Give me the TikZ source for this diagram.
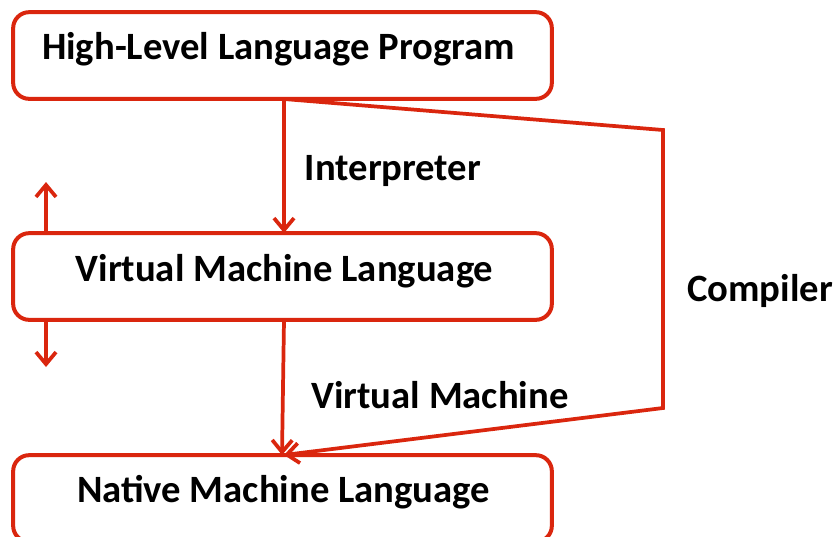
\documentclass[tikz,border=0pt]{standalone}
\usepackage{fontspec}
\setmainfont{Carlito}
\usetikzlibrary{arrows.meta}
\definecolor{vred}{RGB}{218,38,14}
\begin{document}
\begin{tikzpicture}[x=0.75pt,y=-0.75pt,
  box/.style={draw=vred,line width=3pt,rounded corners=12pt,minimum width=404pt,minimum height=65pt,inner sep=0pt},
  conn/.style={draw=vred,line width=2.8pt,-{Straight Barb[length=9pt,width=15pt,line width=2.8pt]}},
  lbl/.style={font=\bfseries\fontsize{29}{34}\selectfont,inner sep=0pt},
  txt/.style={font=\bfseries\fontsize{29}{34}\selectfont}]
\useasboundingbox (0,0) rectangle (836,536);
\clip (0,0) rectangle (836,536);
\node[box] (hl) at (282.5,55.5) {};
\node[box] (vm) at (282.5,276.5) {};
\node[box] (nm) at (282.5,498.5) {};
\node[txt] at (278.5,49) {High-Level Language Program};
\node[txt] at (284.5,271) {Virtual Machine Language};
\node[txt] at (283.5,492) {Native Machine Language};
\node[lbl] (li) at (393,171) {Interpreter};
\node[lbl] (lv) at (440,395) {Virtual Machine};
\node[lbl] (lc) at (760,291) {Compiler};
\coordinate (c1) at (663,130);
\coordinate (c2) at (663,408);
\coordinate (up) at (46,182);
\coordinate (dn) at (46,367);
\draw[conn] (284,99) -- (284,233);
\draw[conn] (284,320) -- (282,455);
\draw[conn] (284,99) -- (c1) -- (c2) -- (284,455);
\draw[conn] (46,233) -- (up);
\draw[conn] (46,320) -- (dn);
\end{tikzpicture}
\end{document}
